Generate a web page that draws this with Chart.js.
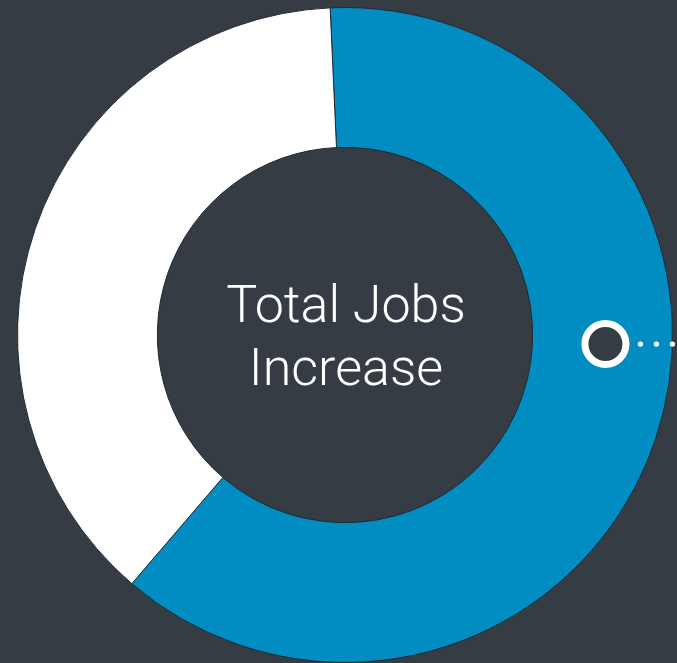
<!DOCTYPE html>
<html>
<head>
<meta charset="utf-8">
<script src="https://cdn.jsdelivr.net/npm/chart.js@4"></script>
<style>
  html, body { margin: 0; padding: 0; background: #363c43; }
  #wrap { width: 677px; height: 663px; position: relative; }
</style>
</head>
<body>
<div id="wrap"><canvas id="myChart"></canvas></div>
<script>
var labels = ['Increase', 'Other'];
var values = [62, 38];
var colors = ['#028dc2', '#ffffff'];
var centerLines = ['Total Jobs', 'Increase'];
var markerAngle = 92; // degrees clockwise from top

const ctx = document.getElementById('myChart');

// center text + ring marker, placed from the arc geometry
const overlay = {
  id: 'overlay',
  afterDraw: function (chart) {
    let arc = chart.getDatasetMeta(0).data[0];
    let c = chart.ctx;
    let cx = arc.x, cy = arc.y;

    c.save();
    c.fillStyle = '#ffffff';
    c.textAlign = 'center';
    c.textBaseline = 'alphabetic';
    c.font = '300 52px "Helvetica Neue", Roboto, Lato, sans-serif';
    c.fillText(centerLines[0], cx + 1, cy - 13);
    c.fillText(centerLines[1], cx + 1, cy + 50);

    let mid = (arc.innerRadius + arc.outerRadius) / 2 + 3;
    let a = (markerAngle - 90) * Math.PI / 180;
    let mx = cx + mid * Math.cos(a);
    let my = cy + mid * Math.sin(a);
    c.beginPath();
    c.arc(mx, my, 20.5, 0, Math.PI * 2);
    c.fillStyle = '#363c43';
    c.fill();
    c.lineWidth = 7;
    c.strokeStyle = '#ffffff';
    c.stroke();

    c.fillStyle = '#ffffff';
    for (let i = 0; i < 3; i++) {
      c.beginPath();
      c.arc(mx + 35 + i * 16, my, 2.6, 0, Math.PI * 2);
      c.fill();
    }
    c.restore();
  },
};

new Chart(ctx, {
  type: 'doughnut',
  data: {
    labels: labels,
    datasets: [
      {
        data: values,
        backgroundColor: colors,
        borderColor: '#1f2a33',
        borderWidth: 1,
      },
    ],
  },
  options: {
    responsive: true,
    maintainAspectRatio: false,
    animation: false,
    cutout: '57.3%',
    rotation: -2.6,
    layout: { padding: { left: 16, right: 3, top: 7, bottom: -2 } },
    plugins: {
      legend: { display: false },
      tooltip: { enabled: false },
    },
  },
  plugins: [overlay],
});
</script>
</body>
</html>
